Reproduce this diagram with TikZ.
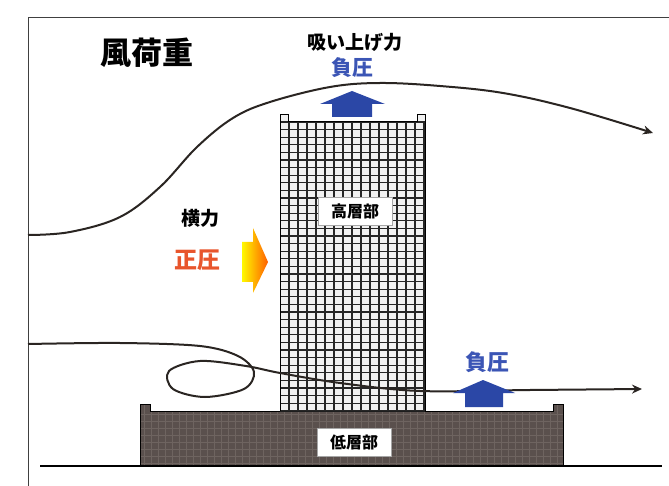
\documentclass[tikz,border=0pt]{standalone}
\usepackage{fontspec}
\newfontfamily\jp{Noto Sans CJK JP}
\usepackage{tikz}
\usetikzlibrary{arrows.meta,positioning}

\definecolor{upblue}{HTML}{2B47A6}
\definecolor{presblue}{HTML}{3B55B5}
\definecolor{presred}{HTML}{E8552C}
\definecolor{lowfill}{HTML}{5A504D}
\definecolor{lowline}{HTML}{6E6460}
\definecolor{towerfill}{HTML}{F1F1F1}
\definecolor{streamcol}{HTML}{2A2522}

\begin{document}
\begin{tikzpicture}[
  x=1pt, y=-1pt,
  font=\jp\bfseries,
  stream/.style={draw=streamcol, line width=2pt, -{Stealth[length=10pt,width=9pt]}},
  uparrow/.style={fill=upblue, draw=none},
  partlabel/.style={draw=gray!70, fill=white, line width=0.6pt, minimum width=74pt, minimum height=28pt, inner sep=0pt, font=\jp\bfseries\fontsize{16}{16}\selectfont},
  frameline/.style={draw=black!75, line width=1pt}
]
\useasboundingbox (0,0) rectangle (669,486);

\draw[frameline] (28,486) -- (28,18) -- (669,18);

% lower part
\fill[lowfill] (140,466) -- (140,404) -- (150,404) -- (150,411) -- (553,411) -- (553,404) -- (563,404) -- (563,466) -- cycle;
\begin{scope}
  \clip (140,466) -- (140,404) -- (150,404) -- (150,411) -- (553,411) -- (553,404) -- (563,404) -- (563,466) -- cycle;
  \foreach \x in {144,151,...,563} \draw[lowline, line width=0.5pt] (\x,404) -- (\x,466);
  \foreach \y in {414,421,...,466} \draw[lowline, line width=0.5pt] (140,\y) -- (563,\y);
\end{scope}
\draw[line width=1pt] (140,466) -- (140,404) -- (150,404) -- (150,411) -- (553,411) -- (553,404) -- (563,404) -- (563,466);

% tower
\fill[towerfill] (280,411) -- (280,115) -- (288,115) -- (288,122) -- (417,122) -- (417,115) -- (425,115) -- (425,411) -- cycle;
\begin{scope}
  \clip (280,122) rectangle (425,411);
  \foreach \x in {280,289,...,425} \draw[black!85, line width=1.1pt] (\x,122) -- (\x,411);
  \foreach \i in {0,...,38} \draw[black!85, line width=1.1pt] (280,122+7.6*\i) -- (425,122+7.6*\i);
\end{scope}
\draw[line width=1pt] (280,411) -- (280,115) -- (288,115) -- (288,122) -- (417,122) -- (417,115) -- (425,115) -- (425,411);

\draw[line width=1.6pt] (40,466) -- (662,466);

\node[partlabel] (high) at (355,211) {高層部};
\node[partlabel] (low) at (354,442) {低層部};

% wind flow
\draw[stream] plot[smooth, tension=0.6] coordinates {(28,235) (70,232) (120,217) (160,187) (197,147) (233,118) (270,102) (330,87) (380,83) (440,86) (503,93) (570,108) (653,133)};
\draw[stream] plot[smooth, tension=0.55] coordinates {(28,344) (120,343) (200,346) (238,356) (254,372) (244,389) (205,397) (173,389) (169,371) (200,361) (246,366) (280,373) (340,383) (420,391) (530,390) (642,389)};

% pressures
\fill[uparrow] (352,91) -- (385,104) -- (372,104) -- (372,117) -- (332,117) -- (332,104) -- (320,104) -- cycle;
\fill[uparrow] (483,380) -- (515,393) -- (503,393) -- (503,407) -- (465,407) -- (465,393) -- (453,393) -- cycle;
\shade[left color=yellow!95!orange, right color=orange!75!red] (242,242) -- (253,242) -- (253,228) -- (268,262) -- (253,293) -- (253,282) -- (242,282) -- cycle;

\node[font=\jp\bfseries\fontsize{31}{31}\selectfont] (title) at (147,53) {風荷重};
\node[font=\jp\bfseries\fontsize{19}{19}\selectfont] (suction) at (355,42) {吸い上げ力};
\node[text=presblue, font=\jp\bfseries\fontsize{21}{21}\selectfont] (negtop) at (352,68) {負圧};
\node[font=\jp\bfseries\fontsize{19}{19}\selectfont] (lateral) at (200,218) {横力};
\node[text=presred, font=\jp\bfseries\fontsize{23}{23}\selectfont] (pos) at (197,260) {正圧};
\node[text=presblue, font=\jp\bfseries\fontsize{22}{22}\selectfont] (neglow) at (487,362) {負圧};
\end{tikzpicture}
\end{document}
